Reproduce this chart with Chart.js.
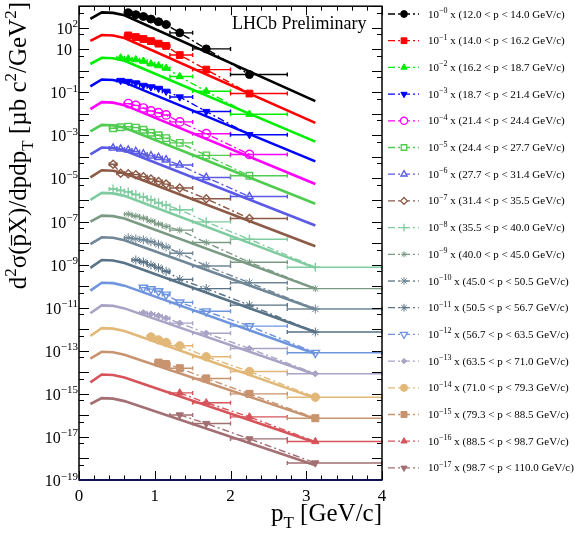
<!DOCTYPE html>
<html>
<head>
<meta charset="utf-8">
<script src="https://cdn.jsdelivr.net/npm/chart.js@4.4.0/dist/chart.umd.min.js"></script>
<style>
  html, body { margin: 0; padding: 0; background: #fff; }
  #wrap { width: 575px; height: 538px; position: relative; }
</style>
</head>
<body>
<div id="wrap"><canvas id="spectra" width="575" height="538"></canvas></div>
<script>
// ---------------- DATA ----------------
const pRanges = [
  "12.0 < p < 14.0", "14.0 < p < 16.2", "16.2 < p < 18.7", "18.7 < p < 21.4",
  "21.4 < p < 24.4", "24.4 < p < 27.7", "27.7 < p < 31.4", "31.4 < p < 35.5",
  "35.5 < p < 40.0", "40.0 < p < 45.0", "45.0 < p < 50.5", "50.5 < p < 56.7",
  "56.7 < p < 63.5", "63.5 < p < 71.0", "71.0 < p < 79.3", "79.3 < p < 88.5",
  "88.5 < p < 98.7", "98.7 < p < 110.0"
];
const scalePow = [0, -1, -2, -3, -4, -5, -6, -7, -8, -9, -10, -11, -12, -13, -14, -15, -16, -17];

// pT bins (GeV/c): marker position and bin edges
const binMid = [0.45, 0.55, 0.65, 0.75, 0.85, 0.95, 1.05, 1.15, 1.33, 1.68, 2.25, 3.12];
const binLo  = [0.40, 0.50, 0.60, 0.70, 0.80, 0.90, 1.00, 1.10, 1.20, 1.50, 2.00, 2.75];
const binHi  = [0.50, 0.60, 0.70, 0.80, 0.90, 1.00, 1.10, 1.20, 1.50, 2.00, 2.75, 4.00];

// first pT bin of each momentum slice
const firstBin = [2, 2, 1, 1, 2, 0, 0, 0, 0, 2, 2, 3, 4, 4, 5, 6, 8, 8];

// measured (scaled) cross sections, one list per momentum slice
const measured = [
  [490, 406, 332, 252, 190, 141, 58, 10.4, 0.67],
  [44, 37, 30, 24, 18.2, 14.3, 5.4, 1.14, 0.088],
  [4.0, 3.6, 3.3, 2.8, 2.1, 1.73, 1.33, 0.54, 0.112, 0.0096],
  [0.356, 0.321, 0.274, 0.21, 0.18, 0.153, 0.112, 0.061, 0.0129, 0.00108],
  [0.030, 0.0247, 0.0186, 0.0136, 0.0113, 0.0089, 0.00425, 0.0012, 1.31e-4],
  [2.14e-3, 2.38e-3, 2.56e-3, 2.31e-3, 1.83e-3, 1.33e-3, 1.02e-3, 7.5e-4, 4.5e-4, 1.18e-4, 1.33e-5],
  [2.6e-4, 2.34e-4, 2.1e-4, 1.8e-4, 1.38e-4, 1.12e-4, 9.5e-5, 7.3e-5, 4.2e-5, 1.12e-5, 1.45e-6],
  [4.56e-5, 1.76e-5, 1.67e-5, 1.51e-5, 1.22e-5, 9.4e-6, 7.3e-6, 5.5e-6, 3.6e-6, 1.14e-6, 1.38e-7],
  [3.26e-6, 2.79e-6, 2.38e-6, 1.82e-6, 1.40e-6, 1.02e-6, 7.4e-7, 5.7e-7, 3.56e-7, 9.7e-8, 1.5e-8, 7.6e-10],
  [2.21e-7, 1.79e-7, 1.45e-7, 1.06e-7, 7.7e-8, 5.9e-8, 4.0e-8, 1.06e-8, 1.29e-9, 7.7e-11],
  [1.76e-8, 1.58e-8, 1.43e-8, 1.16e-8, 8.9e-9, 6.5e-9, 3.4e-9, 8.7e-10, 1.45e-10, 8.7e-12],
  [1.64e-9, 1.33e-9, 9.7e-10, 7.1e-10, 4.9e-10, 2.06e-10, 7.7e-11, 1.32e-11, 7.4e-13],
  [8.6e-11, 7.3e-11, 5.9e-11, 4.1e-11, 1.76e-11, 6.8e-12, 1.40e-12, 8.1e-14],
  [5.8e-12, 5.1e-12, 4.2e-12, 3.26e-12, 1.92e-12, 6.5e-13, 1.28e-13, 8.6e-15],
  [4.4e-13, 3.2e-13, 2.45e-13, 1.70e-13, 5.3e-14, 1.09e-14, 7.0e-16],
  [2.82e-14, 2.41e-14, 1.55e-14, 5.2e-15, 1.0e-15, 7.4e-17],
  [1.11e-15, 3.86e-16, 8.5e-17, 6.1e-18],
  [1.05e-16, 4.2e-17, 8.1e-18, 6.2e-19]
];

// model curve (solid line), nodes in pT and values per slice
const curvePt = [0.15, 0.30, 0.45, 0.60, 3.12];
const curveVal = [
  [255, 516, 490, 377, 0.0389],
  [24.3, 45.7, 43.4, 33.3, 3.83e-3],
  [2.07, 4.04, 3.83, 2.94, 5.15e-4],
  [0.189, 0.396, 0.376, 0.289, 6.25e-5],
  [1.68e-2, 3.51e-2, 3.33e-2, 2.55e-2, 5.53e-6],
  [1.53e-3, 3.10e-3, 2.94e-3, 2.26e-3, 6.70e-7],
  [1.31e-4, 2.74e-4, 2.60e-4, 2.00e-4, 6.58e-8],
  [1.12e-5, 2.42e-5, 2.30e-5, 1.76e-5, 7.18e-9],
  [1.02e-6, 2.14e-6, 2.03e-6, 1.56e-6, 7.06e-10],
  [1.00e-7, 1.89e-7, 1.79e-7, 1.38e-7, 7.7e-11],
  [8.9e-9, 1.86e-8, 1.76e-8, 1.35e-8, 8.4e-12],
  [7.06e-10, 1.64e-9, 1.56e-9, 1.20e-9, 7.4e-13],
  [6.2e-11, 1.45e-10, 1.38e-10, 1.06e-10, 7.3e-14],
  [5.5e-12, 1.28e-11, 1.22e-11, 9.3e-12, 7.96e-15],
  [4.88e-13, 1.13e-12, 1.07e-12, 8.26e-13, 6.34e-16],
  [4.3e-14, 9.0e-14, 8.55e-14, 6.6e-14, 6.9e-17],
  [3.43e-15, 7.96e-15, 7.55e-15, 5.8e-15, 5.5e-18],
  [3.37e-16, 6.34e-16, 6.0e-16, 4.6e-16, 4.86e-19]
];

// axis tick labels
const xTickLabels = ["0", "1", "2", "3", "4"];
const yLabelPow = [2, 1, -1, -3, -5, -7, -9, -11, -13, -15, -17, -19];

// ---------------- STYLES ----------------
const colors = [
  "#000000", "#ff0000", "#00ee00", "#0000ff", "#ff00ff", "#50cc50",
  "#5a5ae6", "#8c5a46", "#80cca0", "#7a9a84", "#6f8797", "#587286",
  "#6f95de", "#a9a4c6", "#e2b878", "#c8936f", "#d6545a", "#a36f73"
];
const markerStyle = ["circle", "rect", "triangle", "triangle", "circle", "rect", "triangle", "rectRot",
  "cross", "star", "star", "star", "triangle", "rectRot", "circle", "rect", "triangle", "triangle"];
const markerFilled = [1, 1, 1, 1, 0, 0, 0, 0, 0, 1, 1, 1, 0, 1, 1, 1, 1, 1];
const markerRot = [0, 0, 0, 180, 0, 0, 0, 0, 0, 0, 0, 0, 180, 0, 0, 0, 0, 180];
const markerSize = [4, 4.8, 4.2, 4.2, 4.2, 4.6, 4.2, 4, 4.5, 3.5, 4.5, 4.5, 4.8, 3.2, 4.2, 5, 4.2, 4.2];

const SERIF = '"Liberation Serif", "Times New Roman", serif';

// ---------------- DATASETS ----------------
const datasets = [];
for (let i = 0; i < measured.length; i++) {
  const pts = measured[i].map((v, j) => ({ x: binMid[firstBin[i] + j], y: v }));
  const curve = curvePt.map((x, j) => ({ x: x, y: curveVal[i][j] }));
  datasets.push({
    kind: "model", data: curve, showLine: true, borderColor: colors[i],
    borderWidth: 2.6, pointRadius: 0, tension: 0, order: 3
  });
  datasets.push({
    kind: "dashdot", data: pts, showLine: true, borderColor: colors[i],
    borderWidth: 1.4, borderDash: [7, 3, 2, 3], pointRadius: 0, tension: 0, order: 2
  });
  datasets.push({
    kind: "data", series: i, data: pts, showLine: false,
    pointStyle: markerStyle[i], pointRotation: markerRot[i], pointRadius: markerSize[i],
    pointBorderWidth: markerFilled[i] ? 1 : 1.4,
    pointBorderColor: colors[i],
    pointBackgroundColor: markerFilled[i] ? colors[i] : "rgba(0,0,0,0)",
    order: 1
  });
}

// ---------------- HELPERS ----------------
function richText(ctx, parts, x, y, align) {
  let w = 0;
  parts.forEach(p => {
    ctx.font = p.size + "px " + SERIF;
    p.w = ctx.measureText(p.t).width;
    w += p.w;
  });
  let cx = align === "right" ? x - w : align === "center" ? x - w / 2 : x;
  ctx.textAlign = "left";
  ctx.textBaseline = "alphabetic";
  parts.forEach(p => {
    ctx.font = p.size + "px " + SERIF;
    ctx.fillText(p.t, cx, y + (p.dy || 0));
    if (p.bar) {
      ctx.beginPath();
      ctx.lineWidth = 1.2;
      ctx.moveTo(cx + 1, y - p.size * 0.58);
      ctx.lineTo(cx + p.w - 1, y - p.size * 0.58);
      ctx.stroke();
    }
    cx += p.w;
  });
}

// error bars drawn just before each marker set
const errorBars = {
  id: "errorBars",
  beforeDatasetDraw(chart, args) {
    const ds = chart.data.datasets[args.index];
    if (ds.kind !== "data") return;
    const ctx = chart.ctx, xs = chart.scales.x, ys = chart.scales.y;
    const i = ds.series;
    ctx.save();
    ctx.strokeStyle = colors[i];
    ctx.lineWidth = 1.4;
    measured[i].forEach((v, j) => {
      const b = firstBin[i] + j;
      const y = ys.getPixelForValue(v);
      const xl = xs.getPixelForValue(binLo[b]);
      const xr = xs.getPixelForValue(binHi[b]);
      ctx.beginPath();
      ctx.moveTo(xl, y); ctx.lineTo(xr, y);
      ctx.moveTo(xl, y - 2); ctx.lineTo(xl, y + 2);
      ctx.moveTo(xr, y - 2); ctx.lineTo(xr, y + 2);
      ctx.stroke();
    });
    ctx.restore();
  }
};

// frame, ticks, labels, titles and legend
const decorations = {
  id: "decorations",
  afterDraw(chart) {
    const ctx = chart.ctx, a = chart.chartArea;
    const xs = chart.scales.x, ys = chart.scales.y;
    ctx.save();
    ctx.strokeStyle = "#000";
    ctx.fillStyle = "#000";

    // ticks
    ctx.lineWidth = 1;
    ctx.beginPath();
    for (let k = 0; k <= 20; k++) {
      const v = k * 0.2;
      const px = Math.round(xs.getPixelForValue(v)) + 0.5;
      const len = k % 5 === 0 ? 9 : 4.5;
      ctx.moveTo(px, a.bottom); ctx.lineTo(px, a.bottom - len);
      ctx.moveTo(px, a.top); ctx.lineTo(px, a.top + len);
    }
    for (let e = -19; e <= 3; e++) {
      const py = Math.round(ys.getPixelForValue(Math.pow(10, e))) + 0.5;
      ctx.moveTo(a.left, py); ctx.lineTo(a.left + 10, py);
      ctx.moveTo(a.right, py); ctx.lineTo(a.right - 10, py);
      if (e < 3) {
        const pm = Math.round(ys.getPixelForValue(5 * Math.pow(10, e))) + 0.5;
        ctx.moveTo(a.left, pm); ctx.lineTo(a.left + 5, pm);
        ctx.moveTo(a.right, pm); ctx.lineTo(a.right - 5, pm);
      }
    }
    ctx.stroke();

    // frame
    ctx.lineWidth = 1.5;
    ctx.strokeRect(a.left, a.top, a.right - a.left, a.bottom - a.top);
    ctx.strokeStyle = "#10105a";
    ctx.lineWidth = 2;
    ctx.beginPath();
    ctx.moveTo(a.left, a.bottom); ctx.lineTo(a.right, a.bottom);
    ctx.stroke();
    ctx.strokeStyle = "#000";

    // x tick labels
    ctx.font = "17px " + SERIF;
    ctx.textAlign = "center";
    ctx.textBaseline = "alphabetic";
    xTickLabels.forEach((t, k) => {
      ctx.fillText(t, xs.getPixelForValue(k), 501);
    });

    // y tick labels
    yLabelPow.forEach(e => {
      const py = ys.getPixelForValue(Math.pow(10, e));
      if (e === 1) {
        richText(ctx, [{ t: "10", size: 16 }], 72, py + 6, "right");
      } else {
        const sup = e < 0 ? "\u2212" + (-e) : String(e);
        richText(ctx, [{ t: "10", size: 16 }, { t: sup, size: 11, dy: -6.5 }], 78, py + 6, "right");
      }
    });

    // x title
    richText(ctx, [
      { t: "p", size: 25 }, { t: "T", size: 17, dy: 7 }, { t: " [GeV/c]", size: 25 }
    ], a.right, 521, "right");

    // y title (rotated)
    ctx.save();
    ctx.translate(26, 2);
    ctx.rotate(-Math.PI / 2);
    richText(ctx, [
      { t: "d", size: 25 }, { t: "2", size: 17, dy: -10 }, { t: "\u03c3(", size: 25 },
      { t: "p", size: 25, bar: true }, { t: "X)/dpdp", size: 25 }, { t: "T", size: 17, dy: 7 },
      { t: " [\u00b5b c", size: 25 }, { t: "2", size: 17, dy: -10 }, { t: "/GeV", size: 25 },
      { t: "2", size: 17, dy: -10 }, { t: "]", size: 25 }
    ], 0, 0, "right");
    ctx.restore();

    // LHCb label
    ctx.font = "18px " + SERIF;
    ctx.textAlign = "left";
    ctx.fillText("LHCb Preliminary", 232, 29);

    // legend
    const drawPoint = Chart.helpers && Chart.helpers.drawPoint;
    for (let i = 0; i < pRanges.length; i++) {
      const cy = 14 + 26.7 * i;
      ctx.strokeStyle = colors[i];
      ctx.lineWidth = 1.3;
      ctx.setLineDash([7, 3, 2, 3]);
      ctx.beginPath();
      ctx.moveTo(388, cy); ctx.lineTo(419, cy);
      ctx.stroke();
      ctx.setLineDash([]);
      ctx.fillStyle = markerFilled[i] ? colors[i] : "#ffffff";
      ctx.lineWidth = markerFilled[i] ? 1 : 1.3;
      if (drawPoint) {
        drawPoint(ctx, {
          pointStyle: markerStyle[i], rotation: markerRot[i],
          radius: markerSize[i] * 0.85, borderWidth: ctx.lineWidth
        }, 404, cy);
      }
      ctx.fillStyle = "#000";
      const sup = "\u2212" + (-scalePow[i]);
      richText(ctx, [
        { t: "10", size: 11 }, { t: sup, size: 8, dy: -4.5 },
        { t: " x (" + pRanges[i] + " GeV/c)", size: 11 }
      ], 428, cy + 3.5, "left");
    }
    ctx.restore();
  }
};

// ---------------- CHART ----------------
const ctx = document.getElementById("spectra").getContext("2d");
const spectraChart = new Chart(ctx, {
  type: "scatter",
  data: { datasets: datasets },
  options: {
    responsive: false,
    animation: false,
    devicePixelRatio: 1,
    events: [],
    layout: { padding: { left: 79, right: 193, top: 1, bottom: 58 } },
    scales: {
      x: { type: "linear", min: 0, max: 4, display: false },
      y: { type: "logarithmic", min: 1e-19, max: 1e3, display: false }
    },
    plugins: { legend: { display: false }, tooltip: { enabled: false } }
  },
  plugins: [errorBars, decorations]
});
</script>
</body>
</html>
